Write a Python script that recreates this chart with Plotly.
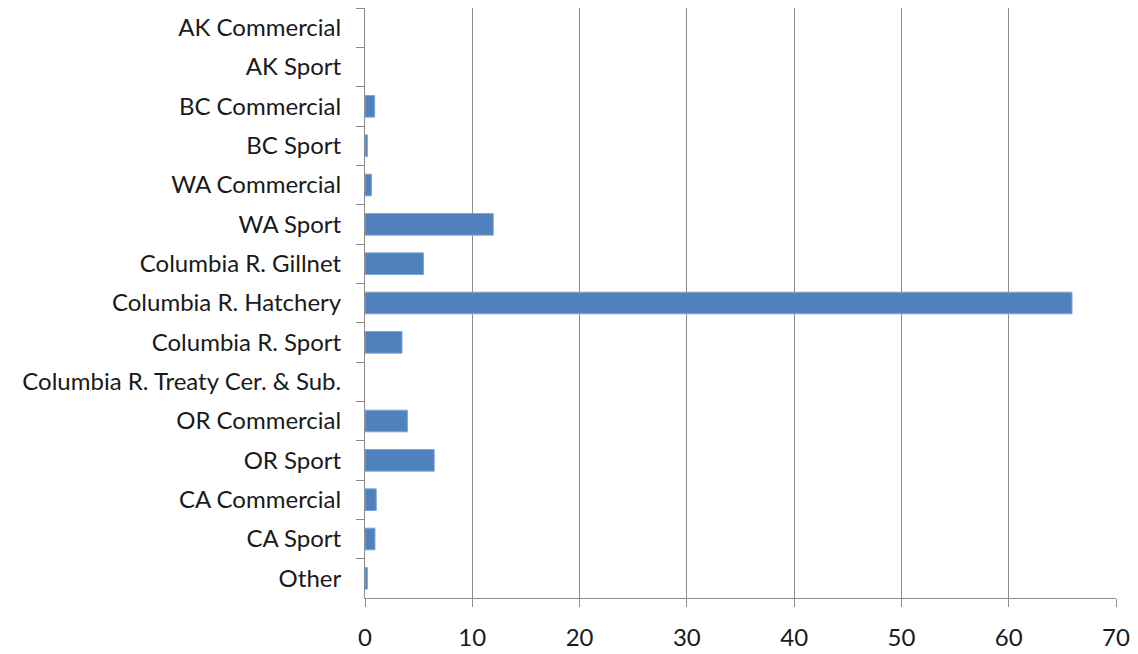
import plotly.graph_objects as go

categories = [
    "AK Commercial", "AK Sport", "BC Commercial", "BC Sport", "WA Commercial",
    "WA Sport", "Columbia R. Gillnet", "Columbia R. Hatchery", "Columbia R. Sport",
    "Columbia R. Treaty Cer. & Sub.", "OR Commercial", "OR Sport",
    "CA Commercial", "CA Sport", "Other",
]
values = [0, 0, 0.9, 0.22, 0.6, 11.95, 5.45, 65.9, 3.45, 0, 3.95, 6.45, 1.05, 0.93, 0.22]

BAR_COLOR = "#4F81BD"
GRID_COLOR = "#8C8C8C"

# no outline on empty bars, otherwise a hairline shows at zero
outline_w = [1 if v > 0 else 0 for v in values]

fig = go.Figure(go.Bar(
    x=values,
    y=categories,
    orientation="h",
    marker=dict(color=BAR_COLOR, line=dict(color="#7FA6D6", width=outline_w)),
))

# page body has an 8px margin, so offsets are compensated here
fig.update_layout(
    width=1138,
    height=654,
    margin=dict(l=357, r=30, t=0, b=64),
    plot_bgcolor="white",
    paper_bgcolor="white",
    font=dict(family="Lato, Carlito, sans-serif", size=24, color="#1a1a1a"),
    showlegend=False,
    bargap=0.45,
)

fig.update_xaxes(
    range=[0, 70],
    dtick=10,
    showgrid=True,
    gridcolor=GRID_COLOR,
    gridwidth=1,
    showline=True,
    linecolor=GRID_COLOR,
    ticks="outside",
    ticklen=8,
    tickcolor=GRID_COLOR,
    ticklabelstandoff=10,
    zeroline=False,
)

fig.update_yaxes(
    autorange="reversed",
    showline=True,
    linecolor=GRID_COLOR,
    ticks="outside",
    tickson="boundaries",
    ticklen=8,
    tickcolor=GRID_COLOR,
    ticklabelstandoff=18,
    showgrid=False,
)

fig.write_html("out.html")
